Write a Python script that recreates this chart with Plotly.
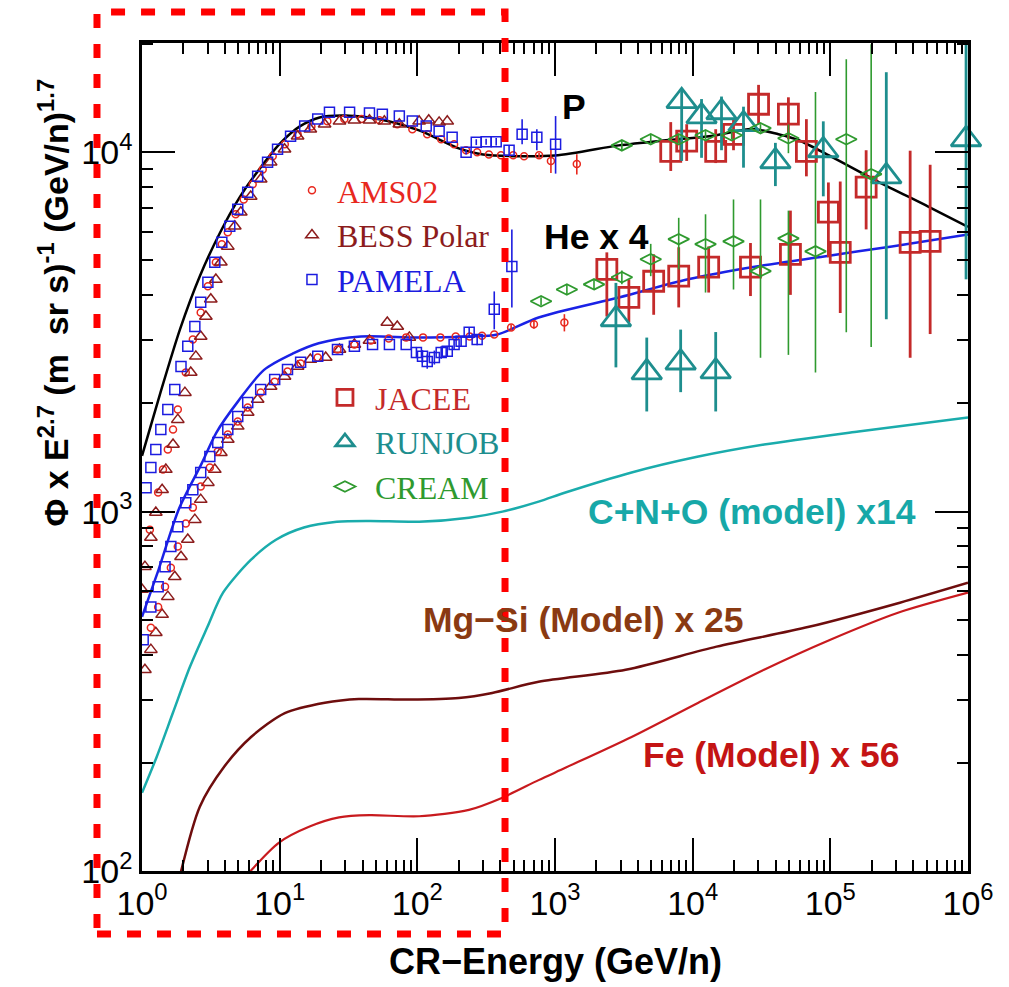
import math
import plotly.graph_objects as go

# ---------------- model curves (E in GeV/n, flux x E^2.7) ----------------
p_model_E = [1.0, 1.35, 1.89, 2.63, 3.67, 5.13, 7.16, 10, 14, 19.5, 30, 53, 103, 200, 300,
             1000, 2900, 6400, 13700, 27000, 42000, 59000, 100000, 220000, 510000, 1000000]
p_model_F = [1430, 2120, 3220, 4520, 5950, 7500, 9000, 10550, 11800, 12500, 12650, 12360, 11500,
             10250, 9860, 9790, 10450, 10800, 11100, 11600, 11220, 10800, 9750, 8300, 7070, 6200]

he_model_E = [1.0, 1.32, 1.86, 2.71, 3.47, 5.0, 7.7, 12.4, 19.2, 39, 100, 230, 380, 760, 2960,
              9250, 29000, 90000, 280000, 1000000]
he_model_F = [510, 690, 1020, 1360, 1660, 2030, 2480, 2750, 2940, 3070, 3050, 3070, 3110, 3470,
              3950, 4430, 4810, 5130, 5470, 5900]

cno_E = [1.0, 1.28, 1.68, 2.23, 2.99, 3.88, 6.2, 9.4, 15, 26, 45, 103, 237, 415, 760, 1190, 3600,
         11000, 33000, 160000, 1000000]
cno_F = [165, 208, 276, 370, 478, 595, 735, 835, 903, 937, 942, 937, 962, 1000, 1066, 1130, 1285,
         1423, 1537, 1672, 1829]

mgsi_E = [1.9, 2.63, 3.95, 6.2, 10.9, 21.3, 37.6, 87, 200, 350, 760, 3260, 14900, 70000, 320000, 1000000]
mgsi_F = [98, 151, 195, 236, 275, 294, 301, 300, 303, 313, 336, 363, 421, 478, 558, 634]

fe_E = [6.0, 9.9, 16.5, 27, 45, 103, 237, 415, 760, 1200, 3600, 11000, 33000, 100000, 310000, 1000000]
fe_F = [99, 120, 133, 141, 143, 142, 148, 160, 179, 194, 236, 294, 363, 440, 523, 595]

# ---------------- proton data ----------------
ams_p_E = [1.14, 1.31, 1.42, 1.54, 1.68, 1.82, 2.08, 2.34, 2.67, 3.01, 3.44, 3.80, 4.20, 4.79, 5.48,
           6.37, 7.53, 8.90, 10.9, 13.5, 17.0, 22.2, 29.5, 39.3, 53, 71.5, 92, 118, 149, 185, 226,
           272, 331, 405, 497, 596, 766, 934, 1440]
ams_p_F = [891, 1130, 1309, 1489, 1692, 1923, 2438, 3013, 3581, 4236, 4943, 5543, 5988, 6720, 7390,
           8150, 8960, 9750, 10520, 11220, 11800, 12190, 12370, 12370, 12270, 11970, 11590, 11220,
           10870, 10520, 10130, 10000, 9860, 9810, 9810, 9750, 9810, 9460, 9270]
ams_p_err = [0] * 36 + [150, 700, 600]

bess_p_E = [1.0, 1.05, 1.16, 1.26, 1.40, 1.49, 1.68, 1.82, 2.05, 2.26, 2.46, 2.67, 2.91, 3.16, 3.44,
            3.74, 4.20, 4.72, 5.22, 6.16, 7.28, 8.60, 10.85, 13.5, 16.7, 21.2, 27.2, 34.9, 44.9,
            57.6, 74, 103, 121, 144, 165]
bess_p_F = [607, 703, 847, 994, 1151, 1309, 1537, 1803, 2143, 2438, 2704, 3070, 3490, 3897, 4427,
            4943, 5470, 6223, 6808, 7535, 8414, 9385, 10190, 11085, 11590, 11970, 12190, 12270,
            12270, 12190, 11970, 12190, 12270, 12110, 12190]

pam_p_E = [1.07, 1.16, 1.26, 1.37, 1.54, 1.73, 1.92, 2.15, 2.42, 2.67, 3.01, 3.38, 3.80, 4.34, 4.96,
           5.86, 6.92, 8.17, 9.65, 12.0, 15.2, 18.9, 23.0, 32.2, 44.9, 55.7, 74, 92, 116, 144, 179,
           226, 268, 316, 374, 464, 577, 738, 1010]
pam_p_F = [1166, 1327, 1489, 1692, 1923, 2188, 2535, 2884, 3275, 3822, 4345, 4943, 5615, 6223, 6935,
           7740, 8576, 9385, 10190, 11085, 11830, 12370, 12920, 12920, 12850, 12760, 12610, 12220,
           11830, 11440, 11010, 10000, 10670, 10700, 10700, 10130, 11220, 11010, 10520]
pam_p_errp = [0] * 31 + [150, 200, 200, 250, 350, 1140, 580, 2090]
pam_p_errm = [0] * 31 + [150, 200, 200, 250, 350, 700, 880, 1800]

jacee_p_E = [6930, 9050, 14700, 19800, 30100, 49600, 67000, 96800, 182000]
jacee_p_F = [10060, 10740, 10060, 11220, 13600, 12760, 10060, 6810, 8000]
jacee_p_errp = [2070, 1230, 1530, 1140, 1800, 1460, 2300, 1430, 2130]
jacee_p_errm = [1190, 1280, 730, 1090, 1630, 1890, 1490, 1710, 1900]

runjob_p_E = [8320, 11600, 16200, 23400, 39900, 88900, 255000, 968000]
runjob_p_F = [13870, 12590, 12920, 11970, 9440, 10130, 8570, 10870]
runjob_p_errp = [1090, 1470, 1370, 1420, 1180, 2060, 8130, 9780]
runjob_p_errm = [4410, 2940, 2790, 2910, 1390, 2590, 5140, 6440]

cream_p_E = [3060, 4960, 7920, 12400, 19200, 31100, 49600, 130600, 198000]
cream_p_F = [10450, 10870, 10870, 11150, 11150, 11670, 10940, 10870, 8690]
cream_p_errp = [300, 300, 300, 300, 300, 300, 1000, 7280, 11300]
cream_p_errm = [300, 300, 300, 300, 300, 300, 1000, 7715, 5820]

# ---------------- helium (x4) data ----------------
ams_he_E = [1.16, 1.31, 1.47, 1.62, 1.82, 2.08, 2.34, 2.67, 3.11, 3.55, 4.20, 4.96, 5.86, 7.28, 9.2,
            11.4, 14.2, 18.9, 26.3, 34.9, 46, 62, 83, 110, 147, 190, 240, 295, 362, 480, 703, 1170]
ams_he_F = [475, 543, 618, 698, 800, 927, 1026, 1175, 1327, 1469, 1638, 1781, 1950, 2144, 2300,
            2454, 2583, 2686, 2827, 2918, 2995, 3033, 3054, 3054, 3054, 3070, 3070, 3088, 3110,
            3255, 3320, 3358]
ams_he_err = [0] * 29 + [60, 90, 185]

bess_he_E = [1.05, 1.16, 1.26, 1.40, 1.54, 1.73, 1.92, 2.15, 2.42, 2.67, 3.01, 3.38, 3.74, 4.20,
             4.96, 5.86, 6.92, 8.60, 10.85, 13.5, 16.7, 21.6, 27.2, 34.9, 44.9, 60.5, 71.5, 87.5]
bess_he_F = [363, 413, 460, 517, 580, 659, 749, 836, 950, 1080, 1204, 1309, 1459, 1588, 1727, 1888,
             2052, 2229, 2376, 2535, 2651, 2686, 2827, 2918, 2995, 3358, 3273, 3054]

pam_he_E = [1.02, 1.16, 1.31, 1.47, 1.62, 1.82, 2.08, 2.34, 2.67, 3.11, 3.55, 4.20, 4.96, 5.86,
            7.28, 9.2, 11.4, 14.2, 18.9, 26.3, 34.9, 47.3, 62.7, 83, 98.5, 109, 118, 133, 149, 165,
            185, 208, 238, 272, 362, 486]
pam_he_F = [440, 543, 618, 703, 800, 908, 1059, 1151, 1284, 1423, 1556, 1692, 1840, 2013, 2188,
            2333, 2487, 2603, 2704, 2827, 2884, 2918, 2918, 2918, 2773, 2704, 2618, 2686, 2773,
            2793, 2918, 2979, 3155, 3013, 3657, 4810]
pam_he_errp = [0] * 24 + [100, 110, 120, 120, 110, 100, 100, 100, 110, 110, 443, 1290]
pam_he_errm = [0] * 24 + [100, 110, 120, 120, 110, 100, 100, 100, 110, 110, 442, 1110]

jacee_he_E = [2380, 3440, 5210, 7920, 13070, 26300, 51300, 118000, 380000, 531000]
jacee_he_F = [4720, 3945, 4375, 4520, 4790, 4790, 5200, 5265, 5610, 5650]
jacee_he_errp = [545, 485, 825, 920, 680, 800, 1680, 3025, 4490, 3580]
jacee_he_errm = [1230, 580, 845, 820, 720, 810, 1190, 1695, 2930, 2530]

runjob_he_E = [2770, 4640, 8180, 14700]
runjob_he_F = [3430, 2440, 2600, 2455]
runjob_he_errp = [900, 610, 610, 705]
runjob_he_errm = [910, 540, 450, 555]

cream_he_E = [792, 1220, 1920, 3060, 4960, 7920, 12400, 19800, 31100, 49600, 78000]
cream_he_F = [3850, 4150, 4290, 4490, 5040, 5730, 5550, 5650, 4670, 5760, 5300]
cream_he_errp = [100, 120, 150, 200, 520, 840, 1170, 1740, 2720, 1120, 9400]
cream_he_errm = [100, 120, 150, 200, 520, 1010, 1480, 1500, 1990, 3030, 2860]

x_tick_vals = [1, 10, 100, 1000, 1e4, 1e5, 1e6]
x_tick_text = ["10<sup>%d</sup>" % i for i in range(7)]
y_tick_vals = [100, 1000, 10000]
y_tick_text = ["10<sup>2</sup>", "10<sup>3</sup>", "10<sup>4</sup>"]

# ---------------- colours ----------------
C_AMS = "#e8281e"
C_BESS = "#8c1c1c"
C_PAM = "#1c1ce0"
C_JAC = "#c42a2a"
C_RUN = "#1e8e8e"
C_CRM = "#2f9a2f"
C_HE = "#1a22e6"
C_CNO = "#1aacac"
C_MGSI = "#6e0d0d"
C_FE = "#c81a1e"

SANS = "Liberation Sans, Arial, Helvetica, sans-serif"
NARROW = "Liberation Sans Narrow, Liberation Sans, Arial, sans-serif"
SERIF = "Liberation Serif, Times New Roman, serif"

fig = go.Figure()


def line(E, F, color, width=2.5):
    fig.add_trace(go.Scatter(x=E, y=F, mode="lines",
                             line=dict(color=color, width=width, shape="spline", smoothing=0.8),
                             showlegend=False, hoverinfo="skip"))


line(p_model_E, p_model_F, "black")
line(he_model_E, he_model_F, C_HE)
line(cno_E, cno_F, C_CNO)
line(mgsi_E, mgsi_F, C_MGSI)
line(fe_E, fe_F, C_FE, 2.2)


def data(E, F, color, symbol, size, lw, name=None, legend="legend", ep=None, em=None, ew=1.6, clip=True):
    kw = {}
    if ep is not None:
        kw["error_y"] = dict(type="data", array=ep, arrayminus=em if em is not None else ep,
                             symmetric=False, color=color, thickness=ew, width=0, visible=True)
    fig.add_trace(go.Scatter(
        x=E, y=F, mode="markers",
        marker=dict(symbol=symbol, size=size, color=color, line=dict(color=color, width=lw)),
        name=name if name else "", showlegend=name is not None, legend=legend,
        cliponaxis=clip, **kw))


def lab(txt, col):
    return "<span style='color:%s'>%s</span>" % (col, txt)


# helium first (no legend)
data(bess_he_E, bess_he_F, C_BESS, "triangle-up-open", 11, 1.5)
data(ams_he_E, ams_he_F, C_AMS, "circle-open", 7, 1.5, ep=ams_he_err)
data(pam_he_E, pam_he_F, C_PAM, "square-open", 10, 1.5, ep=pam_he_errp, em=pam_he_errm)

# protons (legend group 1)
data(ams_p_E, ams_p_F, C_AMS, "circle-open", 7, 1.5, name=lab("AMS02", C_AMS), legend="legend", ep=ams_p_err)
data(bess_p_E, bess_p_F, C_BESS, "triangle-up-open", 11, 1.5, name=lab("BESS Polar", C_BESS), legend="legend")
data(pam_p_E, pam_p_F, C_PAM, "square-open", 10, 1.5, name=lab("PAMELA", C_PAM), legend="legend",
     ep=pam_p_errp, em=pam_p_errm)

# high-energy experiments (legend group 2)
data(jacee_he_E, jacee_he_F, C_JAC, "square-open", 20, 2.8, ep=jacee_he_errp, em=jacee_he_errm, ew=2.8)
data(runjob_he_E, runjob_he_F, C_RUN, "triangle-up-open", 26, 2.8, ep=runjob_he_errp, em=runjob_he_errm, ew=2.8)
data(cream_he_E, cream_he_F, C_CRM, "diamond-wide-open", 15, 1.8, ep=cream_he_errp, em=cream_he_errm, ew=1.6)

data(jacee_p_E, jacee_p_F, C_JAC, "square-open", 20, 2.8, name=lab("JACEE", C_JAC), legend="legend2",
     ep=jacee_p_errp, em=jacee_p_errm, ew=2.8)
data(runjob_p_E, runjob_p_F, C_RUN, "triangle-up-open", 26, 2.8, name=lab("RUNJOB", C_RUN), legend="legend2",
     ep=runjob_p_errp, em=runjob_p_errm, ew=2.8, clip=False)
data(cream_p_E, cream_p_F, C_CRM, "diamond-wide-open", 15, 1.8, name=lab("CREAM", C_CRM), legend="legend2",
     ep=cream_p_errp, em=cream_p_errm, ew=1.6)

axis_common = dict(
    type="log", showgrid=False, zeroline=False, showline=True, linewidth=2.5, linecolor="black",
    mirror="allticks", ticks="inside", ticklen=33, tickwidth=2, tickcolor="black", tickmode="array",
    tickfont=dict(family=NARROW, size=34, color="black"),
    minor=dict(ticks="inside", ticklen=11, tickwidth=2, tickcolor="black", dtick="D1", showgrid=False),
)

fig.update_layout(
    width=1009, height=987, autosize=False,
    margin=dict(l=142, r=41, t=43, b=116, pad=0),
    paper_bgcolor="white", plot_bgcolor="white",
    xaxis=dict(axis_common, range=[0, 6], tickvals=x_tick_vals, ticktext=x_tick_text),
    yaxis=dict(axis_common, range=[2, 4.304], tickvals=y_tick_vals, ticktext=y_tick_text),
    legend=dict(x=0.1755, y=0.855, xanchor="left", yanchor="top", bgcolor="rgba(0,0,0,0)",
                font=dict(family=SERIF, size=32), itemwidth=40, tracegroupgap=0),
    legend2=dict(x=0.2094, y=0.605, xanchor="left", yanchor="top", bgcolor="rgba(0,0,0,0)",
                 font=dict(family=SERIF, size=32), itemwidth=50, tracegroupgap=0),
    showlegend=True,
)

bold = dict(family=SANS, size=35.5, weight="bold")
notes = [
    ("P", 3.138, 4.125, "black"),
    ("He x 4", 3.304, 3.763, "black"),
    ("C+N+O (model) x14", 4.428, 3.0, "#17a8a8"),
    ("Mg−Si (Model) x 25", 3.21, 2.699, "#8a3a12"),
    ("Fe (Model) x 56", 4.572, 2.323, "#c41414"),
]
for t, xl, yl, c in notes:
    fig.add_annotation(x=xl, y=yl, xref="x", yref="y", text=t, showarrow=False,
                       font=dict(bold, color=c), xanchor="center", yanchor="middle")

fig.add_annotation(x=0.5, y=-0.1087, xref="paper", yref="paper", text="CR−Energy (GeV/n)",
                   showarrow=False, font=dict(family=SANS, size=36, weight="bold", color="black"),
                   xanchor="center", yanchor="middle")
fig.add_annotation(x=-0.107, y=0.686, xref="paper", yref="paper",
                   text="Φ x E<sup>2.7</sup> (m  sr s)<sup>-1</sup> (GeV/n)<sup>1.7</sup>",
                   textangle=-90, showarrow=False,
                   font=dict(family=SANS, size=34, weight="bold", color="black"),
                   xanchor="center", yanchor="middle")

# red dashed highlight box
fig.add_shape(type="rect", xref="paper", yref="paper", x0=-0.0545, x1=0.4395, y0=-0.0761, y1=1.0374,
              line=dict(color="#ff0000", width=7, dash="14px,16px"), layer="above")

fig.write_html("out.html", include_plotlyjs=True, config={"displayModeBar": False},
               post_script="document.body.style.margin='0';document.body.style.overflow='hidden';")
